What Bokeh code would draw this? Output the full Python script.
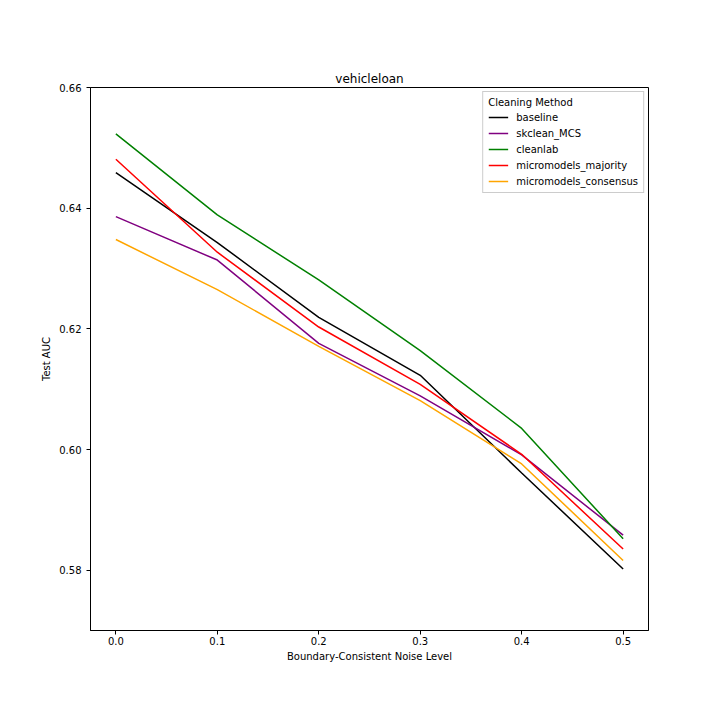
from bokeh.plotting import figure
from bokeh.models import FixedTicker, PrintfTickFormatter, Legend, LegendItem, Range1d
from bokeh.embed import file_html
from bokeh.resources import INLINE

noise = [0.0, 0.1, 0.2, 0.3, 0.4, 0.5]
baseline = [0.6459, 0.6343, 0.6219, 0.6123, 0.5961, 0.5802]
skclean_mcs = [0.6386, 0.6314, 0.6176, 0.6089, 0.5991, 0.5858]
cleanlab = [0.6523, 0.6389, 0.6281, 0.6164, 0.6035, 0.5852]
mm_majority = [0.6481, 0.6327, 0.6203, 0.6108, 0.5992, 0.5835]
mm_consensus = [0.6348, 0.6265, 0.6171, 0.6081, 0.5976, 0.5816]

series = [
    ("baseline", baseline, "black"),
    ("skclean_MCS", skclean_mcs, "purple"),
    ("cleanlab", cleanlab, "green"),
    ("micromodels_majority", mm_majority, "red"),
    ("micromodels_consensus", mm_consensus, "orange"),
]

x_ticks = [0.0, 0.1, 0.2, 0.3, 0.4, 0.5]
y_ticks = [0.58, 0.60, 0.62, 0.64, 0.66]

p = figure(width=720, height=720, output_backend="svg", toolbar_location=None,
           x_range=Range1d(-0.025, 0.525), y_range=Range1d(0.57, 0.66),
           min_border_left=90, min_border_right=72, min_border_top=87, min_border_bottom=90,
           title="vehicleloan")
p.title.align = "center"
p.title.text_font = "DejaVu Sans"
p.title.text_font_size = "12px"
p.title.text_font_style = "normal"
p.title.text_color = "black"
p.title.standoff = 4

p.xgrid.visible = False
p.ygrid.visible = False
p.outline_line_color = "black"
p.outline_line_width = 1

for ax in (p.xaxis[0], p.yaxis[0]):
    ax.major_label_text_font = "DejaVu Sans"
    ax.major_label_text_font_size = "10px"
    ax.major_label_text_color = "black"
    ax.axis_label_text_font = "DejaVu Sans"
    ax.axis_label_text_font_size = "10px"
    ax.axis_label_text_font_style = "normal"
    ax.axis_label_text_color = "black"
    ax.minor_tick_line_color = None
    ax.major_tick_out = 4
    ax.major_tick_in = 0
    ax.major_tick_line_color = "black"
    ax.axis_line_color = "black"

p.xaxis.major_label_standoff = 2
p.xaxis.axis_label_standoff = 3
p.yaxis.axis_label_standoff = 4

p.xaxis.ticker = FixedTicker(ticks=x_ticks)
p.yaxis.ticker = FixedTicker(ticks=y_ticks)
p.xaxis.formatter = PrintfTickFormatter(format="%.1f")
p.yaxis.formatter = PrintfTickFormatter(format="%.2f")
p.xaxis.axis_label = "Boundary-Consistent Noise Level"
p.yaxis.axis_label = "Test AUC"

items = []
for name, vals, col in series:
    r = p.line(noise, vals, line_color=col, line_width=1.5)
    items.append(LegendItem(label=name, renderers=[r]))

legend = Legend(items=items, location="top_right", title="Cleaning Method",
                title_text_font="DejaVu Sans", title_text_font_size="10px",
                title_text_font_style="normal", title_text_color="black",
                title_text_align="center", title_standoff=3,
                label_text_font="DejaVu Sans", label_text_font_size="10px",
                label_text_color="black",
                border_line_color="#cccccc", border_line_alpha=1.0,
                glyph_width=20, glyph_height=12, label_height=12, spacing=4,
                padding=5, margin=4, label_standoff=8)
p.add_layout(legend, "center")

open("out.html", "w").write(file_html(p, INLINE))
